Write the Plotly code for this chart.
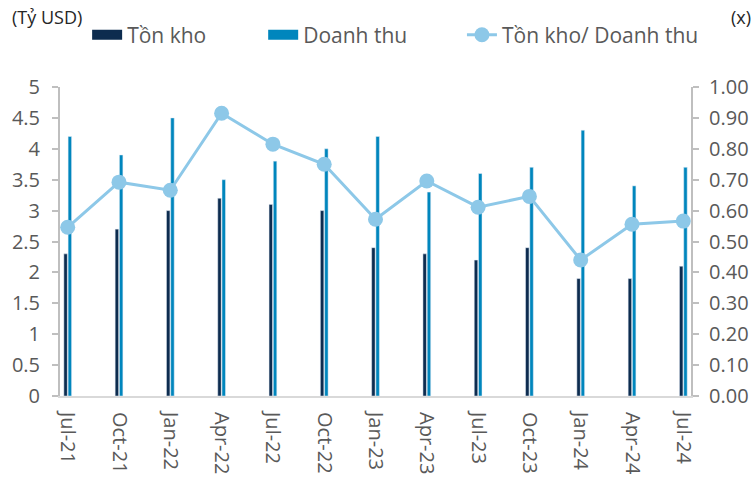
import plotly.graph_objects as go

categories = ["Jul-21", "Oct-21", "Jan-22", "Apr-22", "Jul-22", "Oct-22", "Jan-23",
              "Apr-23", "Jul-23", "Oct-23", "Jan-24", "Apr-24", "Jul-24"]
ton_kho = [2.3, 2.7, 3.0, 3.2, 3.1, 3.0, 2.4, 2.3, 2.2, 2.4, 1.9, 1.9, 2.1]
doanh_thu = [4.2, 3.9, 4.5, 3.5, 3.8, 4.0, 4.2, 3.3, 3.6, 3.7, 4.3, 3.4, 3.7]
ty_le = [0.546, 0.692, 0.666, 0.915, 0.815, 0.75, 0.572, 0.696, 0.611, 0.646, 0.44, 0.556, 0.566]
left_ticks = [0, 0.5, 1, 1.5, 2, 2.5, 3, 3.5, 4, 4.5, 5]
left_labels = ["0", "0.5", "1", "1.5", "2", "2.5", "3", "3.5", "4", "4.5", "5"]
right_ticks = [0, 0.1, 0.2, 0.3, 0.4, 0.5, 0.6, 0.7, 0.8, 0.9, 1.0]
right_labels = ["0.00", "0.10", "0.20", "0.30", "0.40", "0.50", "0.60", "0.70", "0.80", "0.90", "1.00"]

FONT = "Open Sans"
GREY = "#595959"
C_DARK = "#0D2C4F"
C_BLUE = "#0086BD"
C_LIGHT = "#8DC8E8"

fig = go.Figure()
fig.add_trace(go.Bar(x=categories, y=ton_kho, name="Tồn kho", marker_color=C_DARK,
                     width=0.068, offset=-0.075, showlegend=False))
fig.add_trace(go.Bar(x=categories, y=doanh_thu, name="Doanh thu", marker_color=C_BLUE,
                     width=0.068, offset=0.008, showlegend=False))
fig.add_trace(go.Scatter(x=categories, y=ty_le, name="Tồn kho/ Doanh thu", yaxis="y2",
                         mode="lines+markers",
                         line=dict(color=C_LIGHT, width=3),
                         marker=dict(color=C_LIGHT, size=15), legend="legend3"))
# legend entries for the bar series
fig.add_trace(go.Scatter(x=[None], y=[None], mode="lines", name="Tồn kho",
                         line=dict(color=C_DARK, width=14), legend="legend"))
fig.add_trace(go.Scatter(x=[None], y=[None], mode="lines", name="Doanh thu",
                         line=dict(color=C_BLUE, width=14), legend="legend2"))

leg_common = dict(orientation="h", yanchor="middle", y=1.168, xanchor="left",
                  font=dict(size=21, color=GREY), bgcolor="rgba(0,0,0,0)",
                  borderwidth=0)

fig.update_layout(
    width=756, height=478,
    margin=dict(l=60, r=65, t=87, b=82, autoexpand=False),
    paper_bgcolor="white", plot_bgcolor="white",
    font=dict(family=FONT, size=20, color=GREY),
    barmode="overlay",
    showlegend=True,
    legend=dict(leg_common, x=0.043),
    legend2=dict(leg_common, x=0.322),
    legend3=dict(leg_common, x=0.637),
    xaxis=dict(type="category", range=[-0.15, 12.15], tickangle=90,
               showline=True, linecolor="#D9D9D9", linewidth=2, ticks="",
               ticklabelstandoff=10, automargin=False,
               showgrid=False, tickfont=dict(size=20, color=GREY)),
    yaxis=dict(range=[0, 5], tickvals=left_ticks, ticktext=left_labels,
               showline=True, linecolor="#BFBFBF", linewidth=2,
               ticks="outside", ticklen=6, tickcolor="#BFBFBF", tickwidth=2,
               ticklabelstandoff=8, automargin=False,
               showgrid=False, zeroline=False, tickfont=dict(size=20, color=GREY)),
    yaxis2=dict(range=[0, 1.0], tickvals=right_ticks, ticktext=right_labels,
                overlaying="y", side="right",
                showline=True, linecolor="#BFBFBF", linewidth=2,
                ticks="outside", ticklen=6, tickcolor="#BFBFBF", tickwidth=2,
                ticklabelstandoff=6, automargin=False,
                showgrid=False, zeroline=False, tickfont=dict(size=20, color=GREY)),
    annotations=[
        dict(text="(Tỷ USD)", xref="paper", yref="paper", x=-0.079, y=1.227,
             xanchor="left", yanchor="middle", showarrow=False,
             font=dict(size=18, color="#262626")),
        dict(text="(x)", xref="paper", yref="paper", x=1.098, y=1.227,
             xanchor="right", yanchor="middle", showarrow=False,
             font=dict(size=18, color="#262626")),
    ],
)

fig.write_html("out.html", config={"displayModeBar": False},
               post_script="document.body.style.margin='0';document.body.style.overflow='hidden';")
